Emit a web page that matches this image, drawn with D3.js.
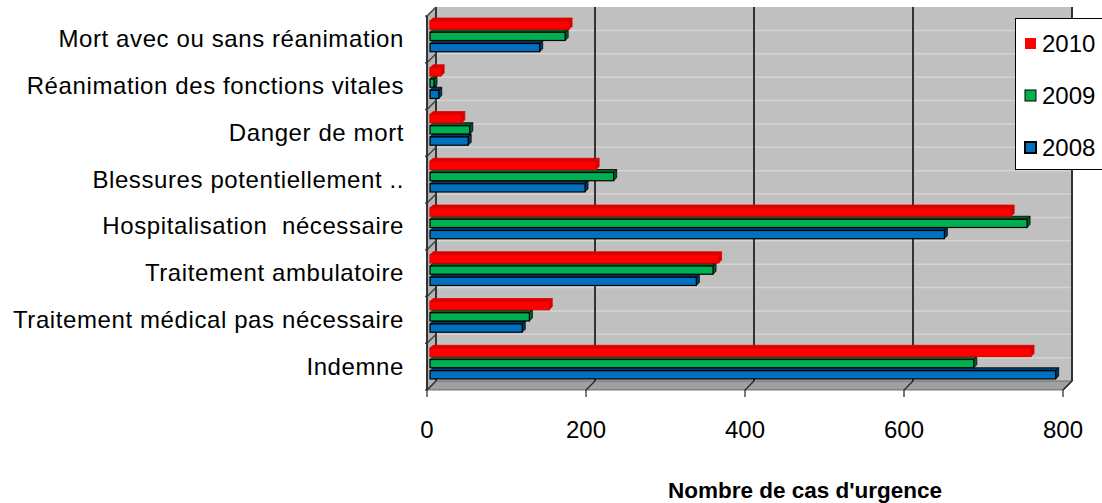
<!DOCTYPE html>
<html>
<head>
<meta charset="utf-8">
<script src="https://cdn.jsdelivr.net/npm/d3@7"></script>
<style>
  body { margin: 0; background: #fff; }
  svg text { font-family: Arial, "Liberation Sans", sans-serif; fill: #000; }
</style>
</head>
<body>
<div id="chart"></div>
<script>
'use strict';

// categories top to bottom
var categories = [
  'Mort avec ou sans réanimation',
  'Réanimation des fonctions vitales',
  'Danger de mort',
  'Blessures potentiellement ..',
  'Hospitalisation  nécessaire',
  'Traitement ambulatoire',
  'Traitement médical pas nécessaire',
  'Indemne'
];
var years = ['2010', '2009', '2008'];
var values2010 = [175, 14, 40, 209, 731, 363, 150, 756];
var values2009 = [170, 5, 50, 231, 751, 356, 125, 684];
var values2008 = [138, 11, 48, 195, 647, 335, 116, 787];
var xTicks = [0, 200, 400, 600, 800];

var seriesValues = {'2010': values2010, '2009': values2009, '2008': values2008};
var colors = {'2010': '#ff0000', '2009': '#00b050', '2008': '#0070c0'};
var darkColors = {'2010': '#d80000', '2009': '#00602e', '2008': '#003a66'};
var strokes = {'2010': '#e00000', '2009': '#000', '2008': '#000'};

var width = 1102, height = 503;
var depth = 9;      // full 3D offset of the back wall
var barDepth = 3;

var svg = d3.select('#chart').append('svg')
  .attr('width', width)
  .attr('height', height);

// front plane scales, back wall = shifted by depth
var x = d3.scaleLinear().domain([0, 800]).range([427, 1063]);
var xBar = d3.scaleLinear().domain([0, 800]).range([430, 1066]);
var yBack = d3.scaleBand().domain(categories).range([7, 381]);
var yBar = d3.scaleBand().domain(categories).range([11.5, 385.5])
  .paddingInner(0.28).paddingOuter(0.14);
var ySub = d3.scaleBand().domain(years).range([0, yBar.bandwidth()]);

var backLeft = x(0) + depth, backRight = x(800) + depth,
    backTop = yBack.range()[0], backBottom = yBack.range()[1];

// back wall
svg.append('rect')
  .attr('x', backLeft).attr('y', backTop)
  .attr('width', backRight - backLeft).attr('height', backBottom - backTop)
  .attr('fill', '#c0c0c0');

// left wall
svg.append('path')
  .attr('d', 'M' + x(0) + ',' + (backTop + depth) + 'L' + backLeft + ',' + backTop +
    'L' + backLeft + ',' + backBottom + 'L' + x(0) + ',' + (backBottom + depth) + 'Z')
  .attr('fill', '#b4b4b4');

// floor
svg.append('path')
  .attr('d', 'M' + x(0) + ',' + (backBottom + depth) + 'L' + backLeft + ',' + backBottom +
    'L' + backRight + ',' + backBottom + 'L' + x(800) + ',' + (backBottom + depth) + 'Z')
  .attr('fill', '#a0a0a0')
  .attr('stroke', '#555').attr('stroke-width', 0.8);

// light horizontal lines on back wall (every half band)
var halfLines = [];
categories.forEach(function(c) {
  halfLines.push(yBack(c));
  halfLines.push(yBack(c) + yBack.bandwidth() / 2);
});
svg.append('g').selectAll('line')
  .data(halfLines.slice(1))
  .enter().append('line')
  .attr('x1', backLeft).attr('x2', backRight)
  .attr('y1', function(d) { return d; }).attr('y2', function(d) { return d; })
  .attr('stroke', '#d4d4d4').attr('stroke-width', 1.5);

// value gridlines on back wall
svg.append('g').selectAll('line')
  .data(xTicks)
  .enter().append('line')
  .attr('x1', function(d) { return x(d) + depth; })
  .attr('x2', function(d) { return x(d) + depth; })
  .attr('y1', backTop).attr('y2', backBottom)
  .attr('stroke', '#333').attr('stroke-width', 2);

// floor gridline continuation + ticks
svg.append('g').selectAll('path')
  .data(xTicks)
  .enter().append('path')
  .attr('d', function(d) {
    return 'M' + (x(d) + depth) + ',' + backBottom + 'L' + x(d) + ',' + (backBottom + depth) +
      'L' + x(d) + ',' + (backBottom + depth + 7);
  })
  .attr('fill', 'none').attr('stroke', '#222').attr('stroke-width', 1.2);

// category ticks on left wall
svg.append('g').selectAll('path')
  .data(categories.map(function(c) { return yBack(c); }).concat([backBottom]))
  .enter().append('path')
  .attr('d', function(d) {
    return 'M' + (x(0) - 2) + ',' + (d + depth) + 'L' + x(0) + ',' + (d + depth) +
      'L' + backLeft + ',' + d;
  })
  .attr('fill', 'none').attr('stroke', '#444').attr('stroke-width', 1.5);

// left axis line
svg.append('line')
  .attr('x1', x(0)).attr('x2', x(0))
  .attr('y1', backTop + depth).attr('y2', backBottom + depth)
  .attr('stroke', '#333').attr('stroke-width', 2);

// right edge
svg.append('path')
  .attr('d', 'M' + backRight + ',' + backTop + 'L' + backRight + ',' + backBottom +
    'L' + x(800) + ',' + (backBottom + depth))
  .attr('fill', 'none').attr('stroke', '#333').attr('stroke-width', 1.5);

// bars, drawn bottom category first, and 2008 -> 2010 inside each
var barData = [];
categories.slice().reverse().forEach(function(c) {
  var i = categories.indexOf(c);
  years.slice().reverse().forEach(function(yr) {
    barData.push({cat: c, year: yr, value: seriesValues[yr][i]});
  });
});

var bars = svg.append('g').selectAll('g')
  .data(barData)
  .enter().append('g');

function barGeom(d) {
  var top = yBar(d.cat) + ySub(d.year);
  var h = ySub.bandwidth();
  return {x0: xBar(0), x1: xBar(d.value), top: top, h: h};
}

bars.append('path') // top face
  .attr('d', function(d) {
    var g = barGeom(d), b = barDepth;
    return 'M' + g.x0 + ',' + (g.top + b) + 'L' + (g.x0 + b) + ',' + g.top +
      'L' + (g.x1 + b) + ',' + g.top + 'L' + g.x1 + ',' + (g.top + b) + 'Z';
  })
  .attr('fill', function(d) { return darkColors[d.year]; })
  .attr('stroke', function(d) { return strokes[d.year]; })
  .attr('stroke-width', 0.8);

bars.append('path') // side face
  .attr('d', function(d) {
    var g = barGeom(d), b = barDepth;
    return 'M' + g.x1 + ',' + (g.top + b) + 'L' + (g.x1 + b) + ',' + g.top +
      'L' + (g.x1 + b) + ',' + (g.top + g.h - b) + 'L' + g.x1 + ',' + (g.top + g.h) + 'Z';
  })
  .attr('fill', function(d) { return darkColors[d.year]; })
  .attr('stroke', function(d) { return strokes[d.year]; })
  .attr('stroke-width', 0.8);

bars.append('rect') // front face
  .attr('x', function(d) { return barGeom(d).x0; })
  .attr('y', function(d) { return barGeom(d).top + barDepth; })
  .attr('width', function(d) { var g = barGeom(d); return g.x1 - g.x0; })
  .attr('height', ySub.bandwidth() - barDepth)
  .attr('fill', function(d) { return colors[d.year]; })
  .attr('stroke', function(d) { return strokes[d.year]; })
  .attr('stroke-width', 1.2);

// category labels
svg.append('g').selectAll('text')
  .data(categories)
  .enter().append('text')
  .attr('x', 404)
  .attr('y', function(d) { return yBar(d) + yBar.bandwidth() / 2 + 4; })
  .attr('dy', '0.35em')
  .attr('text-anchor', 'end')
  .style('font-size', '24px')
  .style('letter-spacing', '0.6px')
  .style('white-space', 'pre')
  .text(function(d) { return d; });

// value tick labels
svg.append('g').selectAll('text')
  .data(xTicks)
  .enter().append('text')
  .attr('x', function(d) { return x(d); })
  .attr('y', 438)
  .attr('text-anchor', 'middle')
  .style('font-size', '24px')
  .text(function(d) { return d; });

// axis title
svg.append('text')
  .attr('x', 805).attr('y', 498)
  .attr('text-anchor', 'middle')
  .style('font-size', '22.5px')
  .style('font-weight', 'bold')
  .text("Nombre de cas d'urgence");

// legend
var legend = svg.append('g');
legend.append('rect')
  .attr('x', 1015.5).attr('y', 18.5)
  .attr('width', 100).attr('height', 151)
  .attr('fill', '#fff').attr('stroke', '#000').attr('stroke-width', 1);

var legendItems = legend.selectAll('g')
  .data(years)
  .enter().append('g')
  .attr('transform', function(d, i) { return 'translate(1025,' + (38 + i * 52) + ')'; });

legendItems.append('rect')
  .attr('width', 11).attr('height', 11)
  .attr('fill', function(d) { return colors[d]; })
  .attr('stroke', function(d, i) { return i === 0 ? 'none' : '#000'; })
  .attr('stroke-width', function(d, i) { return i === 2 ? 2 : 1; });

legendItems.append('text')
  .attr('x', 17).attr('y', 14)
  .style('font-size', '24px')
  .text(function(d) { return d; });
</script>
</body>
</html>
